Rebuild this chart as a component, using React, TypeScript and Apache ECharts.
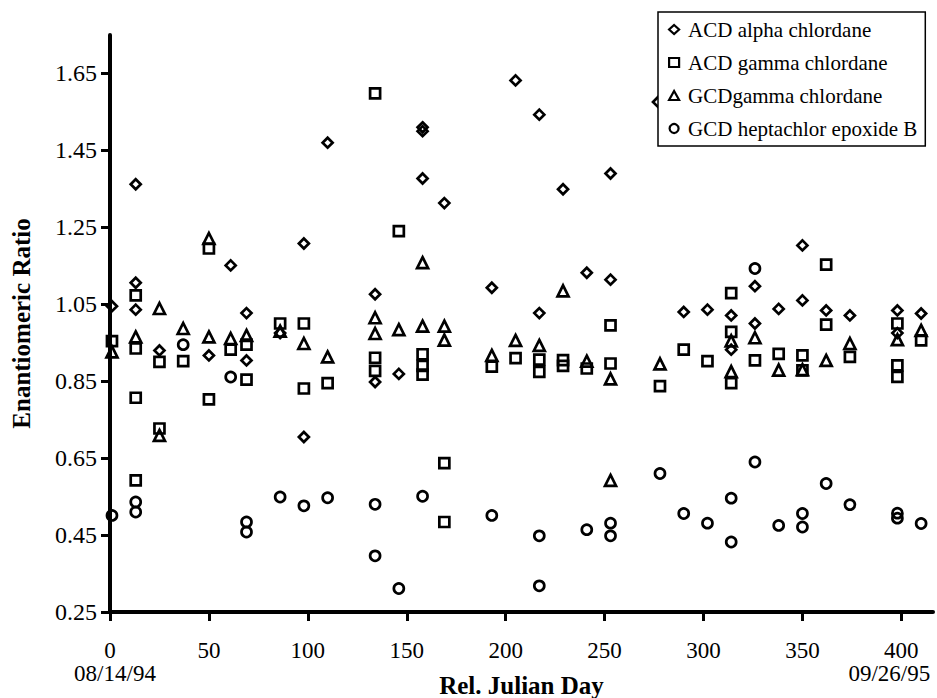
import React, { useEffect, useRef } from "react";
import * as echarts from "echarts";

const seriesNames = [
  "ACD alpha chlordane",
  "ACD gamma chlordane",
  "GCDgamma chlordane",
  "GCD heptachlor epoxide B",
];

// [relative Julian day, enantiomeric ratio]
const acdAlpha: number[][] = [
  [1, 1.045], [13, 1.362], [13, 1.106], [13, 1.036], [25, 0.93], [50, 0.917],
  [61, 1.151], [69, 1.027], [69, 0.904], [86, 0.975], [98, 1.208], [98, 0.705],
  [110, 1.47], [134, 1.076], [134, 0.848], [146, 0.869], [158, 1.51], [158, 1.5],
  [158, 1.377], [169, 1.313], [193, 1.093], [205, 1.632], [217, 1.543], [217, 1.027],
  [229, 1.349], [241, 1.132], [253, 1.39], [253, 1.114], [277, 1.576], [290, 1.03],
  [302, 1.036], [314, 1.021], [314, 0.932], [326, 1.097], [326, 1.0], [338, 1.038],
  [350, 1.203], [350, 1.06], [362, 1.034], [374, 1.021], [398, 1.034], [398, 0.975],
  [410, 1.026],
];

const acdGamma: number[][] = [
  [1, 0.954], [13, 1.073], [13, 0.935], [13, 0.807], [13, 0.592], [25, 0.9],
  [25, 0.727], [37, 0.902], [50, 1.195], [50, 0.803], [61, 0.932], [69, 0.945],
  [69, 0.854], [86, 1.0], [98, 1.0], [98, 0.831], [110, 0.845], [134, 1.598],
  [134, 0.911], [134, 0.877], [146, 1.24], [158, 0.92], [158, 0.89], [158, 0.867],
  [169, 0.637], [169, 0.484], [193, 0.888], [205, 0.91], [217, 0.906], [217, 0.874],
  [229, 0.905], [229, 0.89], [241, 0.883], [253, 0.995], [253, 0.896], [278, 0.837],
  [290, 0.932], [302, 0.902], [314, 1.079], [314, 0.978], [314, 0.845], [326, 0.904],
  [338, 0.921], [350, 0.917], [350, 0.878], [362, 1.153], [362, 0.997], [374, 0.913],
  [398, 1.0], [398, 0.891], [398, 0.861], [410, 0.956],
];

const gcdGamma: number[][] = [
  [1, 0.926], [13, 0.965], [25, 1.039], [25, 0.709], [37, 0.987], [50, 1.221],
  [50, 0.965], [61, 0.961], [69, 0.969], [86, 0.98], [98, 0.948], [110, 0.913],
  [134, 1.015], [134, 0.974], [146, 0.984], [158, 1.158], [158, 0.993], [169, 0.993],
  [169, 0.957], [193, 0.917], [205, 0.956], [217, 0.943], [229, 1.085], [241, 0.902],
  [253, 0.856], [253, 0.592], [278, 0.895], [314, 0.955], [314, 0.875], [326, 0.963],
  [338, 0.879], [350, 0.88], [362, 0.904], [374, 0.948], [398, 0.958], [410, 0.982],
];

const gcdHeptachlor: number[][] = [
  [1, 0.501], [13, 0.536], [13, 0.51], [37, 0.945], [61, 0.861], [69, 0.484],
  [69, 0.458], [86, 0.549], [98, 0.526], [110, 0.547], [134, 0.53], [134, 0.396],
  [146, 0.311], [158, 0.551], [193, 0.501], [217, 0.448], [217, 0.318], [241, 0.464],
  [253, 0.481], [253, 0.448], [278, 0.61], [290, 0.506], [302, 0.481], [314, 0.546],
  [314, 0.432], [326, 1.143], [326, 0.64], [338, 0.475], [350, 0.506], [350, 0.471],
  [362, 0.584], [374, 0.529], [398, 0.507], [398, 0.494], [410, 0.48],
];

const xTicks = [0, 50, 100, 150, 200, 250, 300, 350, 400];
const xStartDate = "08/14/94";
const xEndDate = "09/26/95";
const yTicks = [0.25, 0.45, 0.65, 0.85, 1.05, 1.25, 1.45, 1.65];

export default function App() {
  const ref = useRef<HTMLDivElement>(null);

  useEffect(() => {
    if (!ref.current) return;
    const chart = echarts.init(ref.current, null, { renderer: "svg" });
    const font = "'Liberation Serif', 'Times New Roman', serif";
    const mk = (name: string, symbol: string, size: number, data: number[][]) => ({
      type: "scatter",
      name,
      symbol,
      symbolSize: size,
      data,
      z: 3,
      itemStyle: { color: "rgba(0,0,0,0)", borderColor: "#000", borderWidth: 2.7, opacity: 1 },
      emphasis: { disabled: true },
    });
    chart.setOption({
      animation: false,
      backgroundColor: "#fff",
      textStyle: { fontFamily: font, color: "#000" },
      grid: { left: 110, right: 4, top: 35, bottom: 86, containLabel: false, outerBoundsMode: "none" },
      legend: {
        orient: "vertical",
        left: 658,
        top: 12,
        padding: [6, 8, 6, 10],
        itemGap: 10,
        itemWidth: 10,
        itemHeight: 9,
        backgroundColor: "#fff",
        borderColor: "#000",
        borderWidth: 1.5,
        textStyle: { fontSize: 21, fontFamily: font, color: "#000", lineHeight: 23, padding: [0, 0, 0, 4] },
        itemStyle: { borderWidth: 2.2 },
        data: seriesNames,
      },
      xAxis: {
        type: "value",
        min: 0,
        max: 416,
        axisLine: { show: true, lineStyle: { color: "#000", width: 4 } },
        axisTick: { show: true, customValues: xTicks, length: 9, lineStyle: { color: "#000", width: 3 } },
        axisLabel: {
          customValues: xTicks,
          margin: 27,
          color: "#000",
          fontFamily: font,
          fontSize: 23,
          lineHeight: 23,
          formatter: (v: number) => {
            if (v === xTicks[0]) return `{n|${v}}\n{dl|${xStartDate}}`;
            if (v === xTicks[xTicks.length - 1]) return `{n|${v}}\n{dr|${xEndDate}}`;
            return `{n|${v}}`;
          },
          rich: {
            n: { fontSize: 23, lineHeight: 23, fontFamily: font, color: "#000" },
            dl: { fontSize: 23, lineHeight: 23, fontFamily: font, color: "#000", padding: [0, 0, 0, 10] },
            dr: { fontSize: 23, lineHeight: 23, fontFamily: font, color: "#000", padding: [0, 24, 0, 0] },
          },
        },
        splitLine: { show: false },
        name: "Rel. Julian Day",
        nameLocation: "middle",
        nameGap: 61,
        nameMoveOverlap: false,
        nameTextStyle: { fontSize: 25, fontWeight: "bold", fontFamily: font, color: "#000" },
      },
      yAxis: {
        type: "value",
        min: 0.25,
        max: 1.75,
        axisLine: { show: true, lineStyle: { color: "#000", width: 4 } },
        axisTick: { show: true, customValues: yTicks, length: 9, lineStyle: { color: "#000", width: 3 } },
        axisLabel: {
          customValues: yTicks,
          margin: 13,
          color: "#000",
          fontFamily: font,
          fontSize: 24,
          formatter: (v: number) => v.toFixed(2),
        },
        splitLine: { show: false },
        name: "Enantiomeric Ratio",
        nameLocation: "middle",
        nameGap: 76,
        nameMoveOverlap: false,
        nameTextStyle: { fontSize: 25, fontWeight: "bold", fontFamily: font, color: "#000" },
      },
      series: [
        mk(seriesNames[0], "diamond", 10, acdAlpha),
        mk(seriesNames[1], "rect", 10, acdGamma),
        mk(seriesNames[2], "triangle", 11, gcdGamma),
        mk(seriesNames[3], "circle", 10, gcdHeptachlor),
      ],
    });
    return () => chart.dispose();
  }, []);

  return (
    <div
      ref={ref}
      style={{ position: "fixed", left: 0, top: 0, width: 937, height: 698, background: "#fff" }}
    />
  );
}
